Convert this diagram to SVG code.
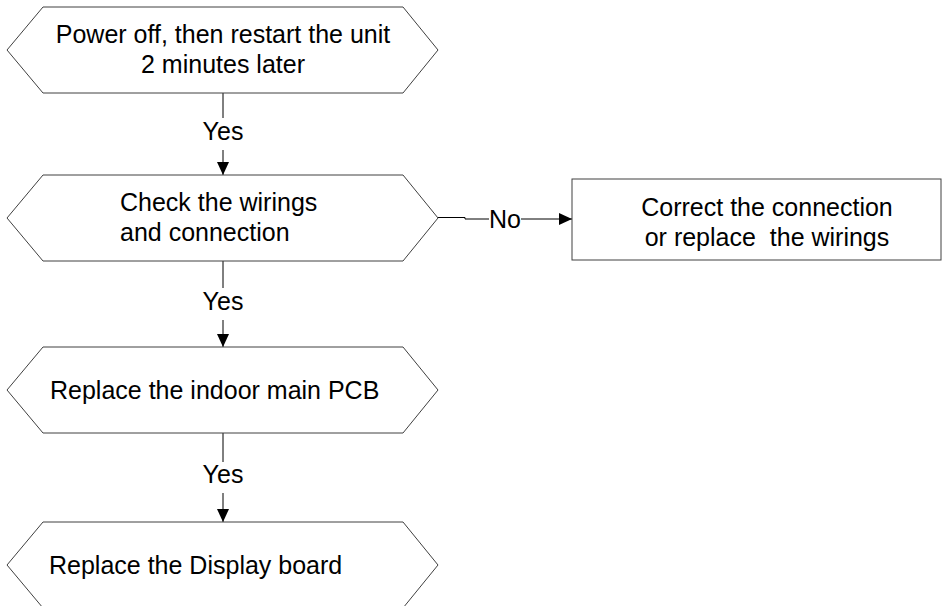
<svg xmlns="http://www.w3.org/2000/svg" width="942" height="606" viewBox="0 0 942 606">
<style>
.shape{fill:#ffffff;stroke:#404040;stroke-width:1}
.t{font-family:"Liberation Sans",Arial,sans-serif;font-size:25px;fill:#000}
.c{fill:none;stroke:#000;stroke-width:1}
</style>
<defs>
<marker id="arr" markerWidth="13" markerHeight="12" refX="13" refY="6" orient="auto" markerUnits="userSpaceOnUse">
<path d="M0,0 L13,6 L0,12 Z" fill="#000"/>
</marker>
</defs>
<rect width="942" height="606" fill="#fff"/>
<g id="connectors">
<line class="c" x1="223" y1="93" x2="223" y2="118"/>
<text class="t" x="223" y="140" text-anchor="middle">Yes</text>
<line class="c" x1="223" y1="150" x2="223" y2="175" marker-end="url(#arr)"/>
<line class="c" x1="223" y1="261" x2="223" y2="288"/>
<text class="t" x="223" y="310" text-anchor="middle">Yes</text>
<line class="c" x1="223" y1="320" x2="223" y2="347" marker-end="url(#arr)"/>
<line class="c" x1="223" y1="433" x2="223" y2="462"/>
<text class="t" x="223" y="483" text-anchor="middle">Yes</text>
<line class="c" x1="223" y1="493" x2="223" y2="522" marker-end="url(#arr)"/>
<polyline class="c" points="438,217.5 465,217.5 465,219 489,219"/>
<text class="t" x="505" y="228" text-anchor="middle">No</text>
<line class="c" x1="521" y1="219" x2="572" y2="219" marker-end="url(#arr)"/>
</g>
<g id="n1">
<polygon class="shape" points="7,50 43,7 403,7 438,50 403,93 43,93"/>
<text class="t" x="223" y="43" text-anchor="middle">Power off, then restart the unit</text>
<text class="t" x="223" y="73" text-anchor="middle">2 minutes later</text>
</g>
<g id="n2">
<polygon class="shape" points="7,218 43,175 403,175 438,218 403,261 43,261"/>
<text class="t" x="120" y="211">Check the wirings</text>
<text class="t" x="120" y="241">and connection</text>
</g>
<g id="n3">
<rect class="shape" x="572" y="179" width="369" height="81"/>
<text class="t" x="767" y="216" text-anchor="middle">Correct the connection</text>
<text class="t" x="767" y="246" text-anchor="middle" xml:space="preserve">or replace  the wirings</text>
</g>
<g id="n4">
<polygon class="shape" points="7,390 43,347 403,347 438,390 403,433 43,433"/>
<text class="t" x="50" y="399">Replace the indoor main PCB</text>
</g>
<g id="n5">
<polygon class="shape" points="7,565 43,522 403,522 438,565 403,608 43,608"/>
<text class="t" x="49" y="574">Replace the Display board</text>
</g>
</svg>
